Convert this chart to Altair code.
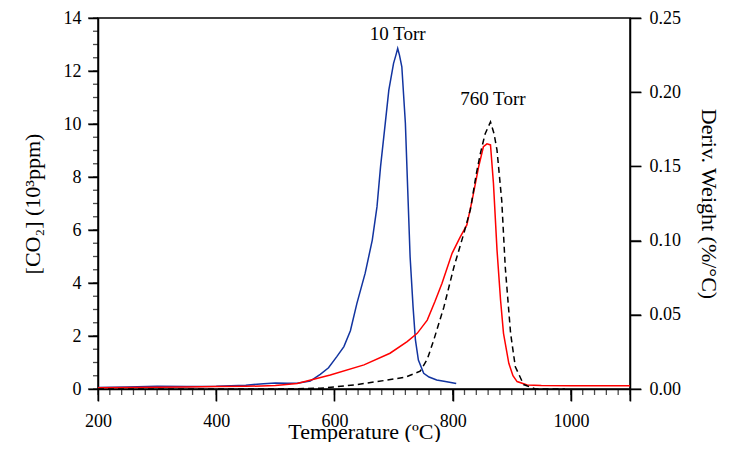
import altair as alt
import pandas as pd

# 10 Torr CO2 signal (left axis, 10^3 ppm)
blue_T = [200, 250, 300, 350, 400, 450, 480, 500, 520, 537, 559, 576, 590, 604, 616, 627,
          638, 652, 664, 672, 678, 686, 692, 700, 704, 707, 710, 714, 720, 724, 728, 733,
          737, 742, 751, 760, 773, 790, 806]
blue_v = [0.06, 0.08, 0.10, 0.09, 0.10, 0.14, 0.20, 0.23, 0.22, 0.22, 0.30, 0.55, 0.80, 1.22, 1.60, 2.20,
          3.23, 4.37, 5.62, 6.88, 8.39, 10.03, 11.28, 12.29, 12.60, 12.85, 12.60, 12.16, 10.03, 7.50, 4.99, 3.10,
          1.85, 1.09, 0.59, 0.45, 0.34, 0.27, 0.21]

# 760 Torr CO2 signal (left axis, 10^3 ppm)
red_T = [200, 250, 300, 350, 400, 450, 500, 537, 593, 650, 694, 723, 740, 757, 770, 782,
         799, 812, 824, 833, 844, 852, 858, 864, 869, 875, 881, 886, 895, 902, 909, 926,
         950, 1000, 1050, 1100]
red_v = [0.05, 0.06, 0.07, 0.08, 0.09, 0.10, 0.13, 0.21, 0.53, 0.91, 1.35, 1.79, 2.10, 2.60, 3.30, 3.99,
         5.12, 5.70, 6.19, 7.13, 8.39, 9.14, 9.25, 9.21, 7.76, 5.25, 3.36, 2.10, 0.97, 0.50, 0.28, 0.15,
         0.13, 0.12, 0.12, 0.12]

# Derivative weight (right axis, %/°C)
dtg_T = [200, 400, 500, 576, 633, 689, 720, 745, 757, 768, 785, 802, 819, 830, 840, 847,
         855, 864, 870, 875, 883, 889, 898, 906, 920, 940, 990]
dtg_v = [0.0, 0.0, 0.0, 0.0005, 0.0027, 0.006, 0.008, 0.012, 0.02, 0.033, 0.055, 0.082, 0.105, 0.121, 0.145, 0.159,
         0.172, 0.180, 0.172, 0.161, 0.127, 0.082, 0.0375, 0.015, 0.003, 0.0, 0.0]

ann_T = [707, 868]
ann_v = [13.4, 10.95]
ann_text = ["10 Torr", "760 Torr"]

x_major = [200, 400, 600, 800, 1000, 1100]
x_minor = list(range(200, 1101, 20))
y_major = [0, 2, 4, 6, 8, 10, 12, 14]
y_minor = [i * 0.5 for i in range(29)]
y_right = [0, 0.05, 0.10, 0.15, 0.20, 0.25]

FONT = "Liberation Serif"
XDOM = [200, 1100]
YDOM = [0, 14]
RDOM = [0, 0.25]

co2 = pd.concat([
    pd.DataFrame({"T": blue_T, "v": blue_v, "s": "10 Torr"}),
    pd.DataFrame({"T": red_T, "v": red_v, "s": "760 Torr"}),
])
dtg = pd.DataFrame({"T": dtg_T, "d": dtg_v})
ann = pd.DataFrame({"T": ann_T, "v": ann_v, "t": ann_text})


def xs():
    return alt.Scale(domain=XDOM, nice=False, zero=False)


def ys():
    return alt.Scale(domain=YDOM, nice=False)


def rs():
    return alt.Scale(domain=RDOM, nice=False)


LAB = dict(labelFont=FONT, labelFontSize=18, labelColor="black")
TIT = dict(titleFont=FONT, titleFontSize=22, titleFontWeight="normal", titleColor="black")
DOM = dict(domainColor="black", domainWidth=1.5, tickColor="black", tickWidth=1.5)

# tick marks drawn through the chart's scales (major and minor)
def xticks(vals, size):
    df = pd.DataFrame({"T": vals, "v": [YDOM[0]] * len(vals)})
    return alt.Chart(df).mark_tick(orient="vertical", size=size, thickness=1.3, color="black",
                                   yOffset=size / 2).encode(
        x=alt.X("T:Q", scale=xs(), axis=None),
        y=alt.Y("v:Q", scale=ys(), axis=None),
    )


def yticks(vals, size):
    df = pd.DataFrame({"T": [XDOM[0]] * len(vals), "v": vals})
    return alt.Chart(df).mark_tick(orient="horizontal", size=size, thickness=1.3, color="black",
                                   xOffset=-size / 2).encode(
        x=alt.X("T:Q", scale=xs(), axis=None),
        y=alt.Y("v:Q", scale=ys(), axis=None),
    )


def rticks(vals, size):
    df = pd.DataFrame({"T": [XDOM[1]] * len(vals), "d": vals})
    return alt.Chart(df).mark_tick(orient="horizontal", size=size, thickness=1.3, color="black",
                                   xOffset=size / 2).encode(
        x=alt.X("T:Q", scale=xs(), axis=None),
        y=alt.Y("d:Q", scale=rs(), axis=None),
    )


lines = alt.Chart(co2).mark_line(strokeWidth=1.5).encode(
    x=alt.X("T:Q", scale=xs(),
            axis=alt.Axis(orient="bottom", values=x_major,
                          labelExpr="datum.value < 1100 ? format(datum.value, 'd') : ''",
                          labelOverlap=False, labelFlush=False, tickSize=12, labelPadding=11,
                          title="Temperature (ºC)", titlePadding=-9, **LAB, **TIT, **DOM)),
    y=alt.Y("v:Q", scale=ys(),
            axis=alt.Axis(orient="left", values=y_major, format="d", tickSize=10,
                          labelPadding=7, labelFlush=False,
                          title="[CO₂] (10³ppm)", titlePadding=19, **LAB, **TIT, **DOM)),
    color=alt.Color("s:N", scale=alt.Scale(domain=["10 Torr", "760 Torr"], range=["#1234a0", "#ff0000"]),
                    legend=None),
)

text = alt.Chart(ann).mark_text(font=FONT, fontSize=19, color="black").encode(
    x=alt.X("T:Q", scale=xs(), axis=None),
    y=alt.Y("v:Q", scale=ys(), axis=None),
    text="t:N",
)

dashed = alt.Chart(dtg).mark_line(strokeWidth=1.5, color="black", strokeDash=[6, 4]).encode(
    x=alt.X("T:Q", scale=xs(), axis=None),
    y=alt.Y("d:Q", scale=rs(),
            axis=alt.Axis(orient="right", values=y_right, format=".2f", tickSize=11,
                          labelPadding=8, labelFlush=False,
                          title="Deriv. Weight (%/°C)", titlePadding=16, **LAB, **TIT, **DOM)),
)

chart = alt.layer(
    lines, text, dashed,
    xticks(x_minor, 6), xticks(x_major, 12),
    yticks(y_minor, 5), yticks(y_major, 10),
    rticks(y_right, 11),
).resolve_scale(
    x="independent", y="independent"
).properties(
    width=532, height=371,
    padding={"left": 13, "top": 1, "right": 0, "bottom": 0},
).configure_view(
    stroke="black", strokeWidth=1.5
).configure_axis(
    grid=False,
)

chart.save("out.html", embed_options={"renderer": "svg", "actions": False})
